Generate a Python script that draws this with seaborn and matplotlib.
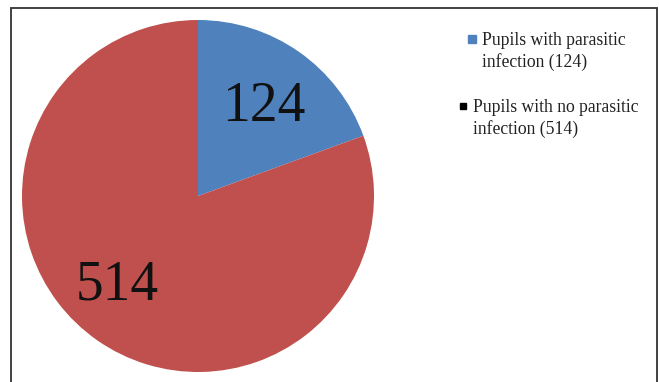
import matplotlib
matplotlib.use("Agg")
import matplotlib.pyplot as plt
import seaborn as sns
from matplotlib.lines import Line2D
from matplotlib.patches import Rectangle

sns.set_theme(style="white")
plt.rcParams['font.family'] = ['Liberation Serif', 'DejaVu Serif']

categories = ["Pupils with parasitic\ninfection (124)", "Pupils with no parasitic\ninfection (514)"]
values = [124, 514]
colors = ["#4F81BD", "#C0504D"]
marker_colors = ["#4F81BD", "#000000"]

W, H = 659, 382
fig = plt.figure(figsize=(W / 100, H / 100), dpi=100)
ax = fig.add_axes([0, 0, 1, 1])

# frame
ax.add_patch(Rectangle((11, -20), 646, H - 8 + 20, fill=False, edgecolor="#333333", lw=1.3, zorder=0))

wedges, texts, autotexts = ax.pie(
    values, colors=colors, startangle=90, counterclock=False,
    center=(198, 186), radius=176, frame=True,
    autopct=lambda p: f"{round(p * sum(values) / 100):d}", pctdistance=0.65,
    textprops=dict(fontsize=40, color="#111111"),
    wedgeprops=dict(linewidth=0),
)
ax.set_xlim(0, W)
ax.set_ylim(0, H)
ax.set_aspect('equal')
ax.axis('off')
x, y = autotexts[0].get_position()
autotexts[0].set_position((x, y - 5))
x, y = autotexts[1].get_position()
autotexts[1].set_position((x - 15, y + 4))

fs = 12.7
for lab, c, xa, ya, ms, pad in [
        (categories[0], marker_colors[0], 467, 32, 6, 0.3),
        (categories[1], marker_colors[1], 458.5, 99, 4, 0.3)]:
    h = Line2D([0], [0], marker='s', linestyle='none', markersize=ms,
               markerfacecolor=c, markeredgecolor=c)
    blank = Line2D([0], [0], linestyle='none')
    lines = lab.split("\n")
    fig.legend([h, blank], lines, loc='upper left', bbox_to_anchor=(xa / W, 1 - ya / H),
               frameon=False, fontsize=fs, handlelength=0.55, handletextpad=pad,
               borderpad=0, borderaxespad=0, labelspacing=0.25, labelcolor="#222222")

fig.savefig("out.png", dpi=100)
